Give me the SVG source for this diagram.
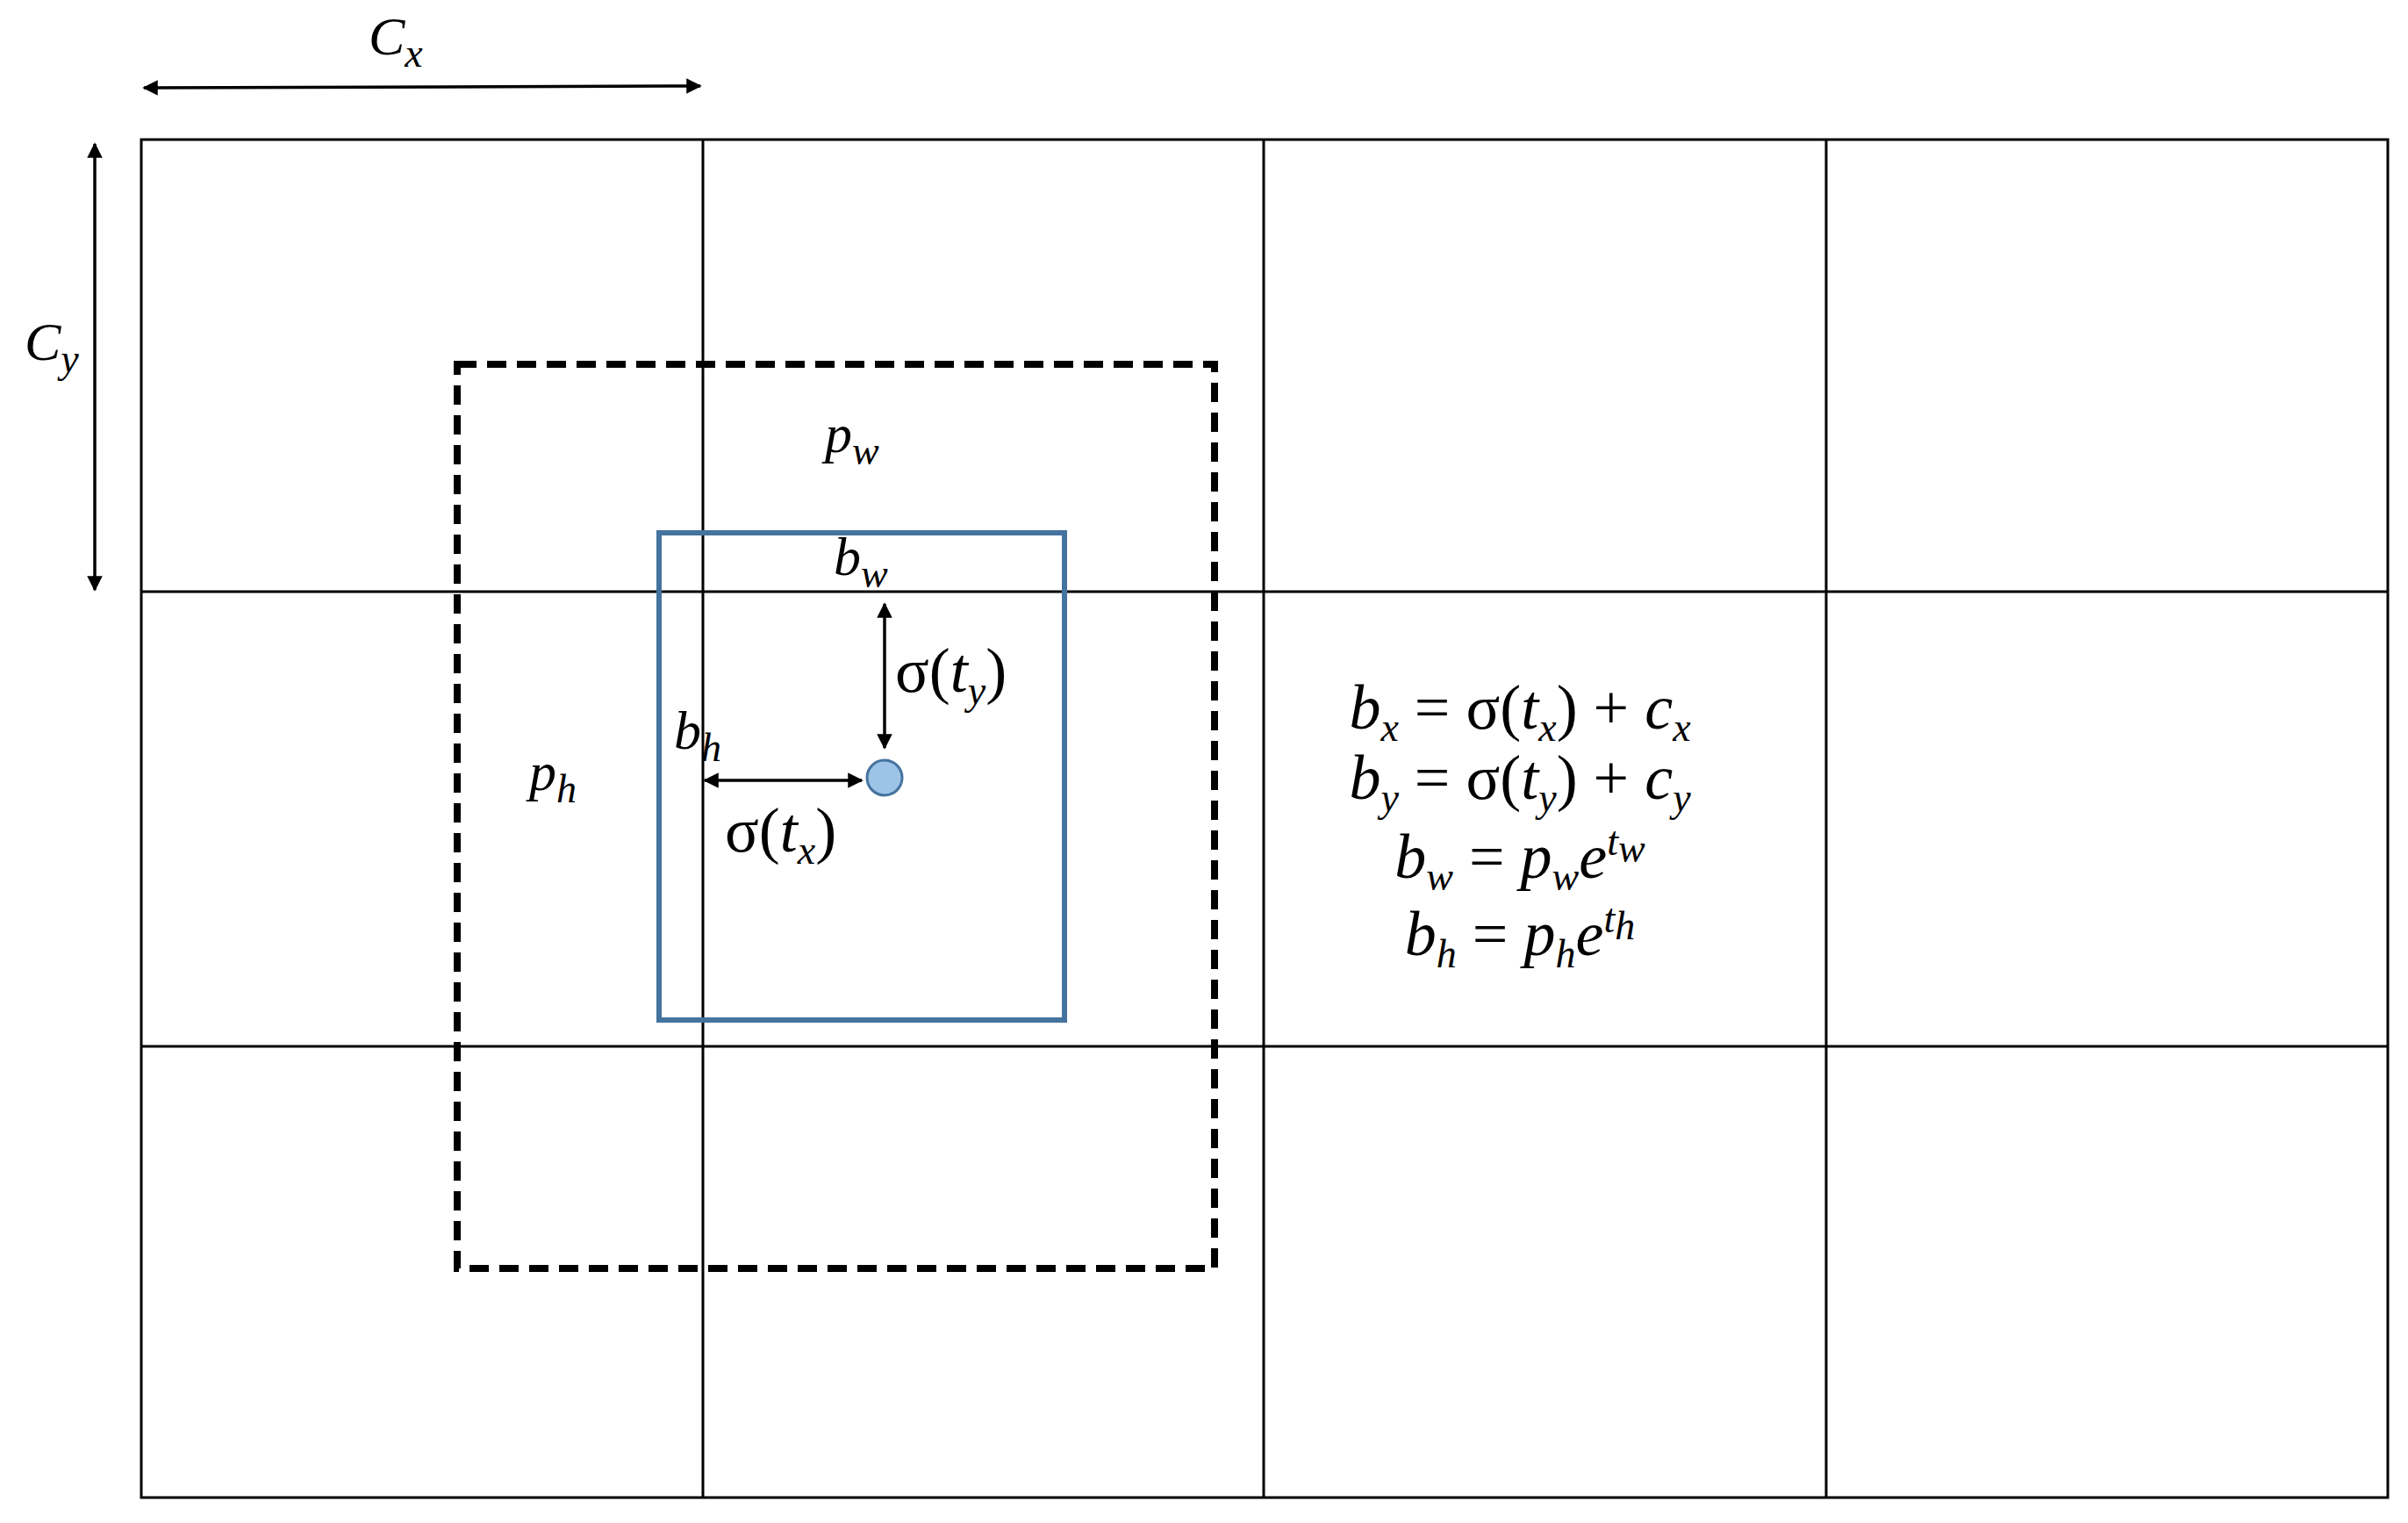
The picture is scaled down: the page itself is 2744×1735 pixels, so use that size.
<svg xmlns="http://www.w3.org/2000/svg" width="2744" height="1735" viewBox="0 0 2744 1735">
<defs>
<marker id="ah" viewBox="0 0 10 10" refX="9" refY="5" markerWidth="5" markerHeight="5" orient="auto-start-reverse"><path d="M0,0 L10,5 L0,10 z" fill="#000"/></marker>
<style>
.g{stroke:#000;stroke-width:3;fill:none}
.t{font-family:"Liberation Serif",serif;font-style:italic;font-size:62px;fill:#000}
.e{font-size:72px}
.s{font-size:46px}
.u{font-style:normal}
.a{stroke:#000;stroke-width:3.5;fill:none;marker-start:url(#ah);marker-end:url(#ah)}
</style>
</defs>
<rect width="2744" height="1735" fill="#fff"/>
<g id="grid">
<rect class="g" x="161" y="159" width="2560" height="1547"/>
<line class="g" x1="801" y1="159" x2="801" y2="1706"/>
<line class="g" x1="1440" y1="159" x2="1440" y2="1706"/>
<line class="g" x1="2081" y1="159" x2="2081" y2="1706"/>
<line class="g" x1="161" y1="674" x2="2721" y2="674"/>
<line class="g" x1="161" y1="1192" x2="2721" y2="1192"/>
</g>
<g id="prior"><rect x="521" y="415" width="863" height="1030" fill="none" stroke="#000" stroke-width="8" stroke-dasharray="22,12"/></g>
<g id="pred"><rect x="751" y="607" width="462" height="555" fill="none" stroke="#44739f" stroke-width="6"/></g>
<g id="center"><circle cx="1008" cy="886" r="20" fill="#9dc3e6" stroke="#44739f" stroke-width="3"/></g>
<g id="connectors">
<line class="a" x1="164" y1="100" x2="798" y2="98"/>
<line class="a" x1="108" y1="164" x2="108" y2="672"/>
<line class="a" x1="1008" y1="688" x2="1008" y2="852"/>
<line class="a" x1="803" y1="889" x2="982" y2="889"/>
</g>
<g id="labels">
<text class="t" x="420" y="62">C<tspan class="s" dy="14">x</tspan></text>
<text class="t" x="28" y="410">C<tspan class="s" dy="14">y</tspan></text>
<text class="t" x="940" y="515">p<tspan class="s" dy="14">w</tspan></text>
<text class="t" x="950" y="655">b<tspan class="s" dy="14">w</tspan></text>
<text class="t e" x="1020" y="788"><tspan class="u">σ(</tspan>t<tspan class="s" dy="14">y</tspan><tspan class="u" dy="-14">)</tspan></text>
<text class="t" x="768" y="853">b<tspan class="s" dy="14">h</tspan></text>
<text class="t" x="603" y="900">p<tspan class="s" dy="14">h</tspan></text>
<text class="t e" x="826" y="970"><tspan class="u">σ(</tspan>t<tspan class="s" dy="14">x</tspan><tspan class="u" dy="-14">)</tspan></text>
</g>
<g id="equations">
<text class="t e" x="1732" y="830" text-anchor="middle">b<tspan class="s" dy="14">x</tspan><tspan class="u" dy="-14"> = σ(</tspan>t<tspan class="s" dy="14">x</tspan><tspan class="u" dy="-14">) + </tspan>c<tspan class="s" dy="14">x</tspan></text>
<text class="t e" x="1732" y="910" text-anchor="middle">b<tspan class="s" dy="14">y</tspan><tspan class="u" dy="-14"> = σ(</tspan>t<tspan class="s" dy="14">y</tspan><tspan class="u" dy="-14">) + </tspan>c<tspan class="s" dy="14">y</tspan></text>
<text class="t e" x="1732" y="1000" text-anchor="middle">b<tspan class="s" dy="14">w</tspan><tspan class="u" dy="-14"> = </tspan>p<tspan class="s" dy="14">w</tspan><tspan dy="-14">e</tspan><tspan class="s" dy="-26">t</tspan><tspan class="s" font-size="34" dy="8">w</tspan></text>
<text class="t e" x="1732" y="1088" text-anchor="middle">b<tspan class="s" dy="14">h</tspan><tspan class="u" dy="-14"> = </tspan>p<tspan class="s" dy="14">h</tspan><tspan dy="-14">e</tspan><tspan class="s" dy="-26">t</tspan><tspan class="s" font-size="34" dy="8">h</tspan></text>
</g>
</svg>
